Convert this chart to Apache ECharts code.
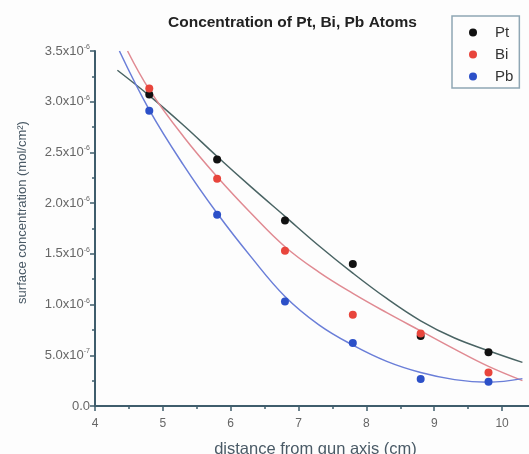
<!DOCTYPE html>
<html><head><meta charset="utf-8">
<script src="https://cdn.jsdelivr.net/npm/echarts@6/dist/echarts.min.js"></script>
<style>html,body{margin:0;padding:0;background:#fdfdfd}#c{width:529px;height:454px}</style>
</head><body><div id="c"></div>
<script>
// measured points
const distances = [4.8, 5.8, 6.8, 7.8, 8.8, 9.8];
const ptValues = [3.07e-6, 2.43e-6, 1.83e-6, 1.40e-6, 0.69e-6, 0.53e-6];
const biValues = [3.13e-6, 2.24e-6, 1.53e-6, 0.90e-6, 0.715e-6, 0.33e-6];
const pbValues = [2.91e-6, 1.885e-6, 1.03e-6, 0.62e-6, 0.265e-6, 0.24e-6];
// fitted curves
const ptFitX = [4.33, 4.8, 5.3, 5.8, 6.3, 6.8, 7.3, 7.8, 8.3, 8.8, 9.3, 9.8, 10.3];
const ptFitY = [3.31e-6, 3.06e-6, 2.77e-6, 2.46e-6, 2.16e-6, 1.87e-6, 1.58e-6, 1.31e-6, 1.06e-6, 0.84e-6, 0.67e-6, 0.545e-6, 0.43e-6];
const biFitX = [4.48, 4.8, 5.3, 5.8, 6.3, 6.8, 7.3, 7.8, 8.3, 8.8, 9.3, 9.8, 10.3];
const biFitY = [3.5e-6, 3.12e-6, 2.66e-6, 2.26e-6, 1.90e-6, 1.57e-6, 1.32e-6, 1.11e-6, 0.92e-6, 0.74e-6, 0.56e-6, 0.39e-6, 0.25e-6];
const pbFitX = [4.36, 4.8, 5.3, 5.8, 6.3, 6.8, 7.3, 7.8, 8.3, 8.8, 9.3, 9.8, 10.3];
const pbFitY = [3.5e-6, 2.92e-6, 2.38e-6, 1.90e-6, 1.47e-6, 1.08e-6, 0.80e-6, 0.60e-6, 0.44e-6, 0.33e-6, 0.26e-6, 0.235e-6, 0.27e-6];
const seriesNames = ['Pt', 'Bi', 'Pb'];
const titleText = 'Concentration of Pt, Bi, Pb Atoms';
const xName = 'distance from gun axis (cm)';
const yName = 'surface concentration (mol/cm\u00B2)';

const zip = (a, b) => a.map((v, i) => [v, b[i]]);
const axisColor = '#3f5d6c';

function yFmt(v) {
  if (Math.abs(v) < 1e-12) return '0.0';
  const e = Math.floor(Math.log10(v) + 1e-9);
  const m = v / Math.pow(10, e);
  return m.toFixed(1) + 'x10{s|' + e + '}';
}

const chart = echarts.init(document.getElementById('c'), null, {renderer: 'canvas'});
chart.setOption({
  backgroundColor: '#fdfdfd',
  animation: false,
  title: {
    text: titleText, left: 163, top: 10,
    textStyle: {fontFamily: 'Liberation Sans, Arial', fontSize: 15.5, fontWeight: 'bold', color: '#222'}
  },
  legend: {
    data: seriesNames, orient: 'vertical', left: 452, top: 16,
    padding: [9, 6, 4, 17], itemGap: 7, icon: 'circle', itemWidth: 34, itemHeight: 8,
    borderColor: '#8fa6b4', borderWidth: 1.5,
    textStyle: {fontFamily: 'Liberation Sans, Arial', fontSize: 15, lineHeight: 14, color: '#333'}
  },
  grid: {left: 95, right: -7, top: 51, bottom: 48, containLabel: false, outerBoundsMode: 'none'},
  xAxis: {
    type: 'value', min: 4, max: 10.5, interval: 1,
    name: xName, nameLocation: 'middle', nameGap: 35,
    nameTextStyle: {fontFamily: 'Liberation Sans, Arial', fontSize: 16.5, color: '#4a5a66'},
    axisLine: {lineStyle: {color: axisColor, width: 2}},
    axisTick: {length: 5, lineStyle: {color: axisColor, width: 1.5}},
    minorTick: {show: true, splitNumber: 2, length: 3, lineStyle: {color: axisColor, width: 1.5}},
    splitLine: {show: false},
    axisLabel: {showMaxLabel: false, color: '#666', fontSize: 12, fontFamily: 'Liberation Sans, Arial', margin: 12}
  },
  yAxis: {
    type: 'value', min: 0, max: 3.5e-6, interval: 0.5e-6,
    name: yName, nameLocation: 'middle', nameGap: 66, nameRotate: 90,
    nameTextStyle: {fontFamily: 'Liberation Sans, Arial', fontSize: 13, color: '#4a5a66', padding: [0, 0, 0, 32]},
    axisLine: {show: true, lineStyle: {color: axisColor, width: 2}},
    axisTick: {show: true, length: 5, lineStyle: {color: axisColor, width: 1.5}},
    minorTick: {show: true, splitNumber: 2, length: 3, lineStyle: {color: axisColor, width: 1.5}},
    splitLine: {show: false},
    axisLabel: {
      formatter: yFmt, color: '#666', fontSize: 13, fontFamily: 'Liberation Sans, Arial', margin: 5,
      rich: {s: {fontSize: 7, color: '#666', verticalAlign: 'top', padding: [0, 0, 8, 0]}}
    }
  },
  series: [
    {name: 'Pt fit', type: 'line', data: zip(ptFitX, ptFitY), smooth: 0.4, showSymbol: false, lineStyle: {color: '#4a6464', width: 1.5}, z: 1},
    {name: 'Bi fit', type: 'line', data: zip(biFitX, biFitY), smooth: 0.4, showSymbol: false, lineStyle: {color: '#e08a92', width: 1.5}, z: 1},
    {name: 'Pb fit', type: 'line', data: zip(pbFitX, pbFitY), smooth: 0.4, showSymbol: false, lineStyle: {color: '#6a7ed8', width: 1.5}, z: 1},
    {name: 'Pt', type: 'scatter', data: zip(distances, ptValues), symbolSize: 8, itemStyle: {color: '#111', opacity: 1}, z: 3},
    {name: 'Bi', type: 'scatter', data: zip(distances, biValues), symbolSize: 8, itemStyle: {color: '#e8453c', opacity: 1}, z: 3},
    {name: 'Pb', type: 'scatter', data: zip(distances, pbValues), symbolSize: 8, itemStyle: {color: '#2c50c8', opacity: 1}, z: 3}
  ]
});
</script></body></html>
